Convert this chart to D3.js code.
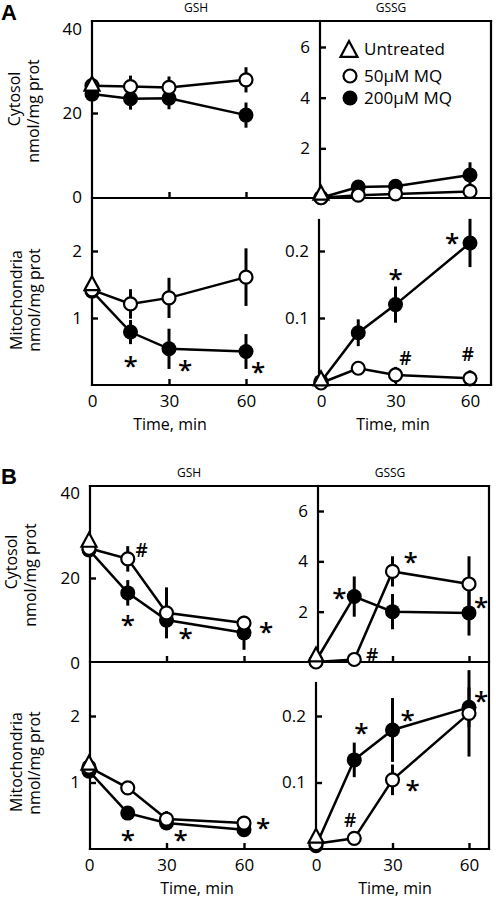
<!DOCTYPE html>
<html><head><meta charset="utf-8">
<script src="https://cdn.jsdelivr.net/npm/d3@7"></script>
<style>
body{margin:0;background:#fff;}
svg text{font-family:"Open Sans",sans-serif;fill:#000;}
</style></head><body>
<svg id="chart" width="496" height="900"></svg>
<script>
// ---------- data ----------
const times = [0, 15, 30, 60];
const xTickValues = [0, 30, 60];
const seriesNames = ["Untreated", "50\u00B5M MQ", "200\u00B5M MQ"];
const gshCytTicks = [0, 20, 40];
const gshMitoTicks = [1, 2];
const gssgCytTicks = [2, 4, 6];
const gssgMitoTicks = [0.1, 0.2];
const compoundTitles = ["GSH", "GSSG"];
const rowTitles = ["Cytosol", "Mitochondria"];
const unitLabel = "nmol/mg prot";
const xTitle = "Time, min";

// Panel A
const A_cytGSH_untreated = 27;
const A_cytGSH_50 = [26.5, 26.3, 26.1, 27.9];
const A_cytGSH_50_err = [0, 2.6, 2.6, 3];
const A_cytGSH_200 = [24.5, 23.4, 23.5, 19.5];
const A_cytGSH_200_err = [0, 2.6, 2.6, 3];
const A_cytGSH_marks = [];

const A_cytGSSG_untreated = 0.25;
const A_cytGSSG_50 = [0.05, 0.15, 0.2, 0.3];
const A_cytGSSG_50_err = [0, 0.1, 0.1, 0.2];
const A_cytGSSG_200 = [0.05, 0.47, 0.5, 0.95];
const A_cytGSSG_200_err = [0, 0.15, 0.15, 0.5];
const A_cytGSSG_marks = [];

const A_mitoGSH_untreated = 1.52;
const A_mitoGSH_50 = [1.42, 1.21, 1.3, 1.61];
const A_mitoGSH_50_err = [0, 0.22, 0.3, 0.43];
const A_mitoGSH_200 = [1.4, 0.79, 0.54, 0.5];
const A_mitoGSH_200_err = [0, 0.18, 0.3, 0.26];
const A_mitoGSH_marks = [["*", "200", 1], ["*", "200", 2], ["*", "200", 3]];

const A_mitoGSSG_untreated = 0.01;
const A_mitoGSSG_50 = [0.003, 0.025, 0.015, 0.01];
const A_mitoGSSG_50_err = [0, 0.01, 0.012, 0.012];
const A_mitoGSSG_200 = [0.005, 0.078, 0.12, 0.212];
const A_mitoGSSG_200_err = [0, 0.02, 0.027, 0.036];
const A_mitoGSSG_marks = [["*", "200", 2], ["*", "200", 3], ["#", "50", 2], ["#", "50", 3]];

// Panel B
const B_cytGSH_untreated = 29;
const B_cytGSH_50 = [27, 24.5, 11.8, 9.4];
const B_cytGSH_50_err = [0, 3, 6, 1];
const B_cytGSH_200 = [26.6, 16.5, 10.1, 7.1];
const B_cytGSH_200_err = [0, 3, 4, 4];
const B_cytGSH_marks = [["#", "50", 1], ["*", "200", 1], ["*", "200", 2], ["*", "200", 3]];

const B_cytGSSG_untreated = 0.3;
const B_cytGSSG_50 = [0, 0.1, 3.6, 3.1];
const B_cytGSSG_50_err = [0, 0, 0.6, 1.1];
const B_cytGSSG_200 = [0.05, 2.6, 2.0, 1.95];
const B_cytGSSG_200_err = [0, 0.8, 0.7, 0.9];
const B_cytGSSG_marks = [["*", "200", 1], ["*", "50", 2], ["*", "200", 3], ["#", "50", 1]];

const B_mitoGSH_untreated = 1.3;
const B_mitoGSH_50 = [1.23, 0.92, 0.45, 0.39];
const B_mitoGSH_50_err = [0, 0.05, 0.12, 0.1];
const B_mitoGSH_200 = [1.17, 0.54, 0.39, 0.29];
const B_mitoGSH_200_err = [0, 0.06, 0.08, 0.07];
const B_mitoGSH_marks = [["*", "200", 1], ["*", "200", 2], ["*", "200", 3]];

const B_mitoGSSG_untreated = 0.02;
const B_mitoGSSG_50 = [0.008, 0.016, 0.104, 0.204];
const B_mitoGSSG_50_err = [0, 0.005, 0.023, 0.065];
const B_mitoGSSG_200 = [0.005, 0.134, 0.179, 0.213];
const B_mitoGSSG_200_err = [0, 0.026, 0.048, 0.03];
const B_mitoGSSG_marks = [["*", "200", 1], ["*", "200", 2], ["*", "50", 2], ["*", "200", 3], ["#", "50", 1]];

// ---------- layout (pixels) ----------
const markOffsets = {
  A_cytGSH: [], A_cytGSSG: [],
  A_mitoGSH: [[0, 29], [16, 16], [12, 15]],
  A_mitoGSSG: [[0, -31], [-18, -5], [10, -17], [-2, -24]],
  B_cytGSH: [[14, -9], [0, 27], [19, 13], [22, -6]],
  B_cytGSSG: [[-15, -4], [18, -14], [12, -11], [18, -4]],
  B_mitoGSH: [[0, 22], [14, 12], [19, -7]],
  B_mitoGSSG: [[7, -32], [15, -15], [20, 5], [12, -11], [-4, -18]]
};

const layout = {
  A: { top: 21, sep: 198, bottom: 385, left: 92, right: 491, cytMid: 320, mitoMid: 319, mitoMidTop: 220,
       xL: [92, 246], xR: [321, 470], yCytL: [197, 29], yCytR: [199, 47], yMitoL: [385, 318], yMitoR: [385, 318],
       letterY: 20, titleY: 12, gshX: 196, gssgX: 391, timeLX: 170, timeRX: 393,
       cytLab: [[20, 99], [39, 111]], mitoLab: [[22, 300], [40, 300]] },
  B: { top: 486, sep: 662, bottom: 849, left: 90, right: 489, cytMid: 318, mitoMid: 316, mitoMidTop: 683,
       xL: [89, 244], xR: [316, 469], yCytL: [663, 493], yCytR: [662, 511], yMitoL: [849, 782.5], yMitoR: [849, 782.5],
       letterY: 484, titleY: 477, gshX: 189, gssgX: 390, timeLX: 197, timeRX: 395,
       cytLab: [[17, 562], [36, 575]], mitoLab: [[22, 762], [40, 763]] }
};

const svg = d3.select("#chart");

function line(g, x1, y1, x2, y2, w) {
  g.append("line").attr("x1", x1).attr("y1", y1).attr("x2", x2).attr("y2", y2)
    .attr("stroke", "#000").attr("stroke-width", w || 2.2).attr("stroke-linecap", "square");
}

function triPath(cx, cy, s) {
  const h = s * 0.93;
  return `M${cx},${cy - h / 2}L${cx + s / 2},${cy + h / 2}L${cx - s / 2},${cy + h / 2}Z`;
}

function yAxis(g, scale, ticks, x, tickLineFor) {
  const ax = d3.axisLeft(scale).tickValues(ticks).tickSizeInner(-6).tickSizeOuter(0)
    .tickPadding(10).tickFormat(d => String(d));
  const gg = g.append("g").attr("transform", `translate(${x},0)`).call(ax)
    .attr("font-size", 17).attr("font-family", "Open Sans");
  gg.select(".domain").remove();
  gg.selectAll(".tick line").attr("stroke", "#000").attr("stroke-width", 2.4)
    .filter(d => !tickLineFor(d)).remove();
  gg.selectAll(".tick text").attr("fill", "#000");
}

function xAxis(g, scale, y, labels) {
  const ax = d3.axisBottom(scale).tickValues(xTickValues).tickSizeInner(-6).tickSizeOuter(0)
    .tickPadding(10).tickFormat(d => labels ? String(d) : "");
  const gg = g.append("g").attr("transform", `translate(0,${y})`).call(ax)
    .attr("font-size", 17).attr("font-family", "Open Sans");
  gg.select(".domain").remove();
  gg.selectAll(".tick line").attr("stroke", "#000").attr("stroke-width", 2.4).filter(d => d === 0).remove();
  gg.selectAll(".tick text").attr("fill", "#000");
}

function drawSeries(g, x, y, untreated, s50, e50, s200, e200, marks, offs) {
  const lineGen = d3.line().x((d, i) => x(times[i])).y(d => y(d));
  [s200, s50].forEach(s => {
    g.append("path").attr("d", lineGen(s)).attr("fill", "none").attr("stroke", "#000").attr("stroke-width", 2.5);
  });
  [[s200, e200], [s50, e50]].forEach(([s, e]) => {
    g.selectAll(null).data(s.map((v, i) => ({ v, e: e[i], t: times[i] })).filter(d => d.e > 0)).enter()
      .append("line")
      .attr("x1", d => x(d.t)).attr("x2", d => x(d.t))
      .attr("y1", d => y(d.v - d.e)).attr("y2", d => y(d.v + d.e))
      .attr("stroke", "#000").attr("stroke-width", 3);
  });
  g.selectAll(null).data(s200).enter().append("circle")
    .attr("cx", (d, i) => x(times[i])).attr("cy", d => y(d)).attr("r", 7.5).attr("fill", "#000");
  g.selectAll(null).data(s50).enter().append("circle")
    .attr("cx", (d, i) => x(times[i])).attr("cy", d => y(d)).attr("r", 6.5)
    .attr("fill", "#fff").attr("stroke", "#000").attr("stroke-width", 2.2);
  g.append("path").attr("d", triPath(x(0), y(untreated), 15)).attr("fill", "#fff")
    .attr("stroke", "#000").attr("stroke-width", 2.2).attr("stroke-linejoin", "miter");
  marks.forEach((m, k) => {
    const s = m[1] === "50" ? s50 : s200;
    const cx = x(times[m[2]]) + offs[k][0];
    const cy = y(s[m[2]]) + offs[k][1];
    if (m[0] === "*") {
      g.append("text").attr("x", cx).attr("y", cy + 14).attr("text-anchor", "middle")
        .attr("font-size", 26).attr("font-weight", 600).text("*");
    } else {
      g.append("text").attr("x", cx).attr("y", cy + 7).attr("text-anchor", "middle")
        .attr("font-size", 19).attr("font-weight", 600).text("#");
    }
  });
}

function drawPanel(key, letter) {
  const L = layout[key];
  const g = svg.append("g");
  const xL = d3.scaleLinear().domain([0, 60]).range(L.xL);
  const xR = d3.scaleLinear().domain([0, 60]).range(L.xR);
  const yCytL = d3.scaleLinear().domain([0, 40]).range(L.yCytL);
  const yCytR = d3.scaleLinear().domain([0, 6]).range(L.yCytR);
  const yMitoL = d3.scaleLinear().domain([0, 1]).range(L.yMitoL);
  const yMitoR = d3.scaleLinear().domain([0, 0.1]).range(L.yMitoR);

  // frame
  line(g, L.left, L.top, L.right, L.top);
  line(g, L.left, L.top, L.left, L.bottom);
  line(g, L.right, L.top, L.right, L.bottom);
  line(g, L.left, L.sep, L.right, L.sep);
  line(g, L.left, L.bottom, L.right, L.bottom);
  line(g, L.cytMid, L.top, L.cytMid, L.sep);
  line(g, L.mitoMid, L.mitoMidTop, L.mitoMid, L.bottom);

  // axes
  yAxis(g, yCytL, gshCytTicks, L.left, d => d === 20);
  yAxis(g, yMitoL, gshMitoTicks, L.left, d => true);
  yAxis(g, yCytR, gssgCytTicks, L.cytMid, d => true);
  yAxis(g, yMitoR, gssgMitoTicks, L.mitoMid, d => true);
  xAxis(g, xL, L.sep, false);
  xAxis(g, xR, L.sep, false);
  xAxis(g, xL, L.bottom, true);
  xAxis(g, xR, L.bottom, true);

  // titles
  g.append("text").attr("x", 1).attr("y", L.letterY)
    .attr("font-weight", "bold").attr("font-size", 22).style("font-family", "Liberation Sans, Arial, sans-serif").text(letter);
  g.append("text").attr("x", L.gshX).attr("y", L.titleY).attr("text-anchor", "middle").attr("font-size", 12).text(compoundTitles[0]);
  g.append("text").attr("x", L.gssgX).attr("y", L.titleY).attr("text-anchor", "middle").attr("font-size", 12).text(compoundTitles[1]);
  g.append("text").attr("x", L.timeLX).attr("y", L.bottom + 45).attr("text-anchor", "middle").attr("font-size", 16).text(xTitle);
  g.append("text").attr("x", L.timeRX).attr("y", L.bottom + 45).attr("text-anchor", "middle").attr("font-size", 16).text(xTitle);

  const rot = (pos, txt) => g.append("text").attr("transform", `translate(${pos[0]},${pos[1]}) rotate(-90)`)
    .attr("text-anchor", "middle").attr("font-size", 16).text(txt);
  rot(L.cytLab[0], rowTitles[0]); rot(L.cytLab[1], unitLabel);
  rot(L.mitoLab[0], rowTitles[1]); rot(L.mitoLab[1], unitLabel);

  return { g, xL, xR, yCytL, yCytR, yMitoL, yMitoR };
}

const pA = drawPanel("A", "A");
drawSeries(pA.g, pA.xL, pA.yCytL, A_cytGSH_untreated, A_cytGSH_50, A_cytGSH_50_err, A_cytGSH_200, A_cytGSH_200_err, A_cytGSH_marks, markOffsets.A_cytGSH);
drawSeries(pA.g, pA.xR, pA.yCytR, A_cytGSSG_untreated, A_cytGSSG_50, A_cytGSSG_50_err, A_cytGSSG_200, A_cytGSSG_200_err, A_cytGSSG_marks, markOffsets.A_cytGSSG);
drawSeries(pA.g, pA.xL, pA.yMitoL, A_mitoGSH_untreated, A_mitoGSH_50, A_mitoGSH_50_err, A_mitoGSH_200, A_mitoGSH_200_err, A_mitoGSH_marks, markOffsets.A_mitoGSH);
drawSeries(pA.g, pA.xR, pA.yMitoR, A_mitoGSSG_untreated, A_mitoGSSG_50, A_mitoGSSG_50_err, A_mitoGSSG_200, A_mitoGSSG_200_err, A_mitoGSSG_marks, markOffsets.A_mitoGSSG);

const pB = drawPanel("B", "B");
drawSeries(pB.g, pB.xL, pB.yCytL, B_cytGSH_untreated, B_cytGSH_50, B_cytGSH_50_err, B_cytGSH_200, B_cytGSH_200_err, B_cytGSH_marks, markOffsets.B_cytGSH);
drawSeries(pB.g, pB.xR, pB.yCytR, B_cytGSSG_untreated, B_cytGSSG_50, B_cytGSSG_50_err, B_cytGSSG_200, B_cytGSSG_200_err, B_cytGSSG_marks, markOffsets.B_cytGSSG);
drawSeries(pB.g, pB.xL, pB.yMitoL, B_mitoGSH_untreated, B_mitoGSH_50, B_mitoGSH_50_err, B_mitoGSH_200, B_mitoGSH_200_err, B_mitoGSH_marks, markOffsets.B_mitoGSH);
drawSeries(pB.g, pB.xR, pB.yMitoR, B_mitoGSSG_untreated, B_mitoGSSG_50, B_mitoGSSG_50_err, B_mitoGSSG_200, B_mitoGSSG_200_err, B_mitoGSSG_marks, markOffsets.B_mitoGSSG);

// legend (panel A, GSSG cytosol)
const legY = [49, 76, 98];
const leg = svg.append("g");
leg.append("path").attr("d", triPath(349, legY[0], 17)).attr("fill", "#fff").attr("stroke", "#000").attr("stroke-width", 2.2);
leg.append("circle").attr("cx", 350).attr("cy", legY[1]).attr("r", 6.5).attr("fill", "#fff").attr("stroke", "#000").attr("stroke-width", 2.2);
leg.append("circle").attr("cx", 350).attr("cy", legY[2]).attr("r", 7.5).attr("fill", "#000");
seriesNames.forEach((n, i) => {
  leg.append("text").attr("x", 364).attr("y", legY[i] + 6).attr("font-size", 17).text(n);
});
</script>
</body></html>
